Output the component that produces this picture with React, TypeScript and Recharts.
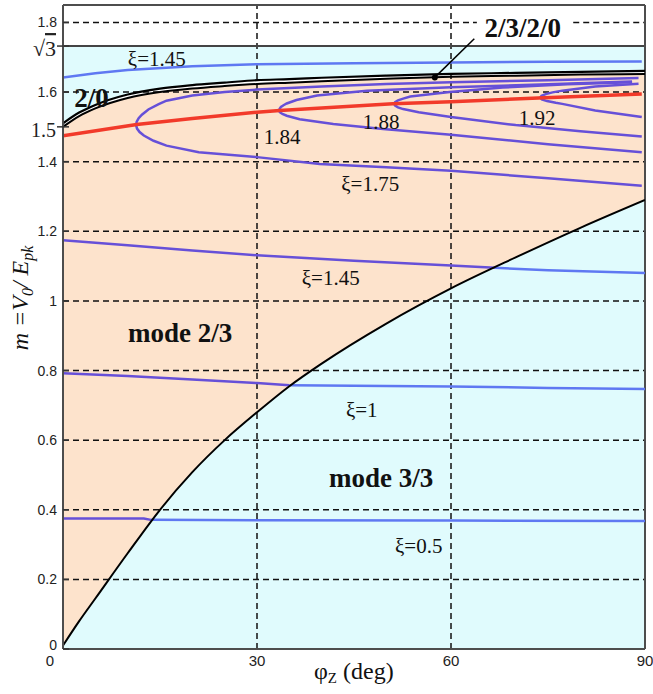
import React from 'react';
import { ComposedChart, Area, Line, XAxis, YAxis, ReferenceLine, ReferenceDot } from 'recharts';

const SQRT3 = Math.sqrt(3);

// Region boundaries sampled on a common phi grid (deg)
const X_GRID = [0, 2.5, 5, 10, 15, 20, 25, 30, 35, 40, 50, 60, 70, 80, 90];
const EDGE_20_TOP = [1.51, 1.541, 1.563, 1.593, 1.61, 1.62, 1.627, 1.634, 1.637, 1.641, 1.647, 1.652, 1.655, 1.658, 1.661];
const EDGE_20_BOTTOM = [1.5, 1.531, 1.553, 1.583, 1.6, 1.61, 1.617, 1.623, 1.627, 1.631, 1.638, 1.644, 1.647, 1.65, 1.652];
const EDGE_23_33 = [0.01, 0.08, 0.145, 0.275, 0.4, 0.508, 0.6, 0.68, 0.755, 0.82, 0.935, 1.036, 1.125, 1.21, 1.29];

// xi curves [phi, m]
const XI05_23: [number, number][] = [[0, 0.375], [12.5, 0.375], [13.6, 0.371]];
const XI05_33: [number, number][] = [[13.6, 0.371], [30, 0.37], [60, 0.369], [90, 0.368]];
const XI1_23: [number, number][] = [[0, 0.792], [10, 0.784], [20, 0.774], [30, 0.764], [35, 0.758]];
const XI1_33: [number, number][] = [[35, 0.758], [45, 0.756], [60, 0.754], [75, 0.75], [90, 0.747]];
const XI145_23: [number, number][] = [[0, 1.174], [10, 1.16], [20, 1.145], [30, 1.131], [45, 1.115], [60, 1.102], [66.8, 1.095]];
const XI145_33: [number, number][] = [[66.8, 1.095], [75, 1.088], [90, 1.08]];
const XI145_20: [number, number][] = [[0, 1.642], [5, 1.654], [10, 1.663], [20, 1.674], [30, 1.68], [45, 1.683], [60, 1.685], [75, 1.687], [89.5, 1.688]];
const XI175: [number, number][] = [
  [89.5, 1.331], [75, 1.352], [60, 1.374], [50, 1.384], [39.7, 1.393], [30, 1.413], [21, 1.427], [16, 1.446], [14, 1.46], [12.5, 1.475], [11.85, 1.485], [11.45, 1.495], [11.3, 1.505],
  [11.4, 1.515], [11.7, 1.525], [12.2, 1.535], [13.2, 1.55], [14.8, 1.565], [16, 1.575], [20, 1.59], [25, 1.6], [30, 1.607], [40, 1.616], [50, 1.623], [60, 1.628], [75, 1.634], [89, 1.64],
];
const XI184: [number, number][] = [
  [89.5, 1.427], [75, 1.45], [60, 1.477], [49.5, 1.494], [41.8, 1.508], [36.6, 1.522], [34.6, 1.532], [33.93, 1.537], [33.53, 1.542], [33.4, 1.547],
  [33.5, 1.552], [33.7, 1.557], [34.1, 1.562], [34.6, 1.567], [36.1, 1.577], [39.3, 1.59], [47, 1.604], [60, 1.614], [75, 1.622], [88, 1.63],
];
const XI188: [number, number][] = [
  [89.5, 1.472], [80, 1.487], [70, 1.505], [60, 1.528], [55, 1.542], [52.6, 1.551], [51.8, 1.556], [51.36, 1.561], [51.2, 1.566],
  [51.36, 1.571], [51.8, 1.576], [52.6, 1.581], [53.7, 1.587], [59.8, 1.6], [68, 1.613], [78, 1.622], [88, 1.628],
];
const XI192: [number, number][] = [
  [89.5, 1.528], [82.3, 1.547], [77.2, 1.566], [76.2, 1.569], [74.85, 1.574], [74.05, 1.579], [73.8, 1.584],
  [74, 1.589], [74.65, 1.594], [75.7, 1.599], [77.2, 1.604], [82.3, 1.616], [89, 1.624],
];
const BIFURCATION: [number, number][] = [[0, 1.474], [11.4, 1.507], [20, 1.524], [30, 1.542], [33.5, 1.547], [40, 1.554], [51, 1.566], [60, 1.572], [73.5, 1.583], [89.5, 1.594]];

const X_TICKS = [0, 30, 60, 90];
const Y_TICKS = [0, 0.2, 0.4, 0.6, 0.8, 1, 1.2, 1.4, 1.5, 1.6, SQRT3, 1.8];
const H_GRID = [0.2, 0.4, 0.6, 0.8, 1, 1.2, 1.4, 1.6];
const V_GRID = [30, 60];

const NOTES = [
  { x: 14.5, y: 1.696, text: 'ξ=1.45', bold: false },
  { x: 4.4, y: 1.582, text: '2/0', bold: true },
  { x: 33.9, y: 1.472, text: '1.84', bold: false },
  { x: 49.2, y: 1.515, text: '1.88', bold: false },
  { x: 73.3, y: 1.525, text: '1.92', bold: false },
  { x: 47.5, y: 1.337, text: 'ξ=1.75', bold: false },
  { x: 41.4, y: 1.065, text: 'ξ=1.45', bold: false },
  { x: 18.1, y: 0.907, text: 'mode 2/3', bold: true },
  { x: 46.2, y: 0.686, text: 'ξ=1', bold: false },
  { x: 49.2, y: 0.49, text: 'mode 3/3', bold: true },
  { x: 55.0, y: 0.296, text: 'ξ=0.5', bold: false },
  { x: 71.1, y: 1.785, text: '2/3/2/0', bold: true },
];

const POINTER = { from: { x: 63.6, y: 1.753 }, to: { x: 57.5, y: 1.642 } };

const regionData = X_GRID.map((x, i) => ({
  x,
  sq: SQRT3,
  gap: [EDGE_20_BOTTOM[i], EDGE_20_TOP[i]],
  mode23: [EDGE_23_33[i], EDGE_20_BOTTOM[i]],
  top: EDGE_20_TOP[i],
  bottom: EDGE_20_BOTTOM[i],
  edge: EDGE_23_33[i],
}));

const pts = (a: [number, number][]) => a.map(([x, m]) => ({ x, m }));

const SERIF = '"Liberation Serif", "Times New Roman", serif';
const SANS = '"Liberation Sans", Arial, sans-serif';
const PURPLE = '#6650d8';
const BLUE = '#5f78f2';
const CYAN = '#e0fbfd';
const PEACH = '#fde3cc';
const FRAME = '#4d4d4d';

const yLabel = (v: number) => {
  if (Math.abs(v - SQRT3) < 1e-9) return 'sqrt3';
  if (v === 0 || v === 1) return String(v);
  return v.toFixed(1);
};

const YTick = (props: any) => {
  const { x, y, payload } = props;
  const v = payload.value;
  const axisX = x + 6;
  const lab = yLabel(v);
  const special = lab === 'sqrt3' || lab === '1.5';
  return (
    <g>
      <line x1={special ? axisX - 6 : axisX} x2={axisX + 6} y1={y} y2={y} stroke="#333" strokeWidth={1.5} />
      {lab === 'sqrt3' ? (
        <text x={x - 1} y={y + 2} textAnchor="end" dominantBaseline="central" fontFamily={SERIF} fontSize={22} fill="#222">
          √<tspan style={{ textDecoration: 'overline' }}>3</tspan>
        </text>
      ) : lab === '1.5' ? (
        <text x={x - 1} y={y + 3} textAnchor="end" dominantBaseline="central" fontFamily={SERIF} fontSize={20} fill="#222">
          1.5
        </text>
      ) : (
        <text x={x} y={v === 0 ? y - 4 : y} textAnchor="end" dominantBaseline="central" fontFamily={SANS} fontSize={14} fill="#222">
          {lab}
        </text>
      )}
    </g>
  );
};

const XTick = (props: any) => {
  const { x, y, payload } = props;
  return (
    <text x={payload.value === 0 ? x - 13 : x} y={y} dy="0.71em" textAnchor="middle" fontFamily={SANS} fontSize={15} fill="#222">
      {payload.value}
    </text>
  );
};

const YAxisLabel = () => (
  <text transform="translate(28,298) rotate(-90)" textAnchor="middle" fontFamily={SERIF} fontSize={24} fontStyle="italic" fill="#111">
    m<tspan> =</tspan>V<tspan fontSize={16} dy={5}>0</tspan>
    <tspan dy={-5}>/ E</tspan>
    <tspan fontSize={16} dy={5}>pk</tspan>
  </text>
);

const XAxisLabel = () => (
  <text x={314} y={679} fontFamily={SERIF} fontSize={24} fill="#111">
    φ<tspan fontSize={15} dy={4}>Z</tspan>
    <tspan dy={-4}>{'  (deg)'}</tspan>
  </text>
);

const Note = ({ cx, cy, text, bold }: any) => (
  <text x={cx} y={cy} textAnchor="middle" dominantBaseline="central" fontFamily={SERIF} fontSize={bold ? 27 : 21} fontWeight={bold ? 'bold' : 'normal'} fill="#111">
    {text}
  </text>
);

const xiLine = (key: string, data: [number, number][], color: string) => (
  <Line key={key} data={pts(data)} dataKey="m" type="linear" stroke={color} strokeWidth={2.5} dot={false} isAnimationActive={false} />
);

export default function App() {
  return (
    <div style={{ position: 'absolute', left: 0, top: 0, background: '#fff' }}>
      <ComposedChart width={653} height={694} data={regionData} margin={{ top: 5, right: 8, left: 0, bottom: 0 }}>
        <XAxis
          dataKey="x"
          type="number"
          domain={[0, 90]}
          ticks={X_TICKS}
          allowDataOverflow
          height={45}
          tickSize={0}
          tickMargin={6}
          tick={<XTick />}
          axisLine={{ stroke: FRAME, strokeWidth: 2 }}
          tickLine={false}
          label={<XAxisLabel />}
        />
        <YAxis
          type="number"
          domain={[0, 1.85]}
          ticks={Y_TICKS}
          allowDataOverflow
          width={63}
          tickSize={0}
          tickMargin={6}
          tick={<YTick />}
          axisLine={{ stroke: FRAME, strokeWidth: 2 }}
          tickLine={false}
          interval={0}
          label={<YAxisLabel />}
        />
        <Area dataKey="sq" type="monotone" stroke="none" fill={CYAN} fillOpacity={1} isAnimationActive={false} />
        <Area dataKey="gap" type="monotone" stroke="none" fill="#ffffff" fillOpacity={1} isAnimationActive={false} />
        <Area dataKey="mode23" type="monotone" stroke="none" fill={PEACH} fillOpacity={1} isAnimationActive={false} />

        {H_GRID.map((v) => (
          <ReferenceLine key={'h' + v} y={v} stroke="#111" strokeWidth={1.5} strokeDasharray="6 4" />
        ))}
        <ReferenceLine segment={[{ x: 0, y: 1.8 }, { x: 64, y: 1.8 }]} stroke="#111" strokeWidth={1.5} strokeDasharray="6 4" />
        <ReferenceLine segment={[{ x: 78.9, y: 1.8 }, { x: 90, y: 1.8 }]} stroke="#111" strokeWidth={1.5} strokeDasharray="6 4" />
        {V_GRID.map((v) => (
          <ReferenceLine key={'v' + v} x={v} stroke="#111" strokeWidth={1.5} strokeDasharray="6 4" />
        ))}
        <ReferenceLine y={SQRT3} stroke="#444" strokeWidth={2} />
        <ReferenceLine y={1.85} stroke={FRAME} strokeWidth={2} />
        <ReferenceLine x={90} stroke={FRAME} strokeWidth={2} />

        {xiLine('a1', XI05_23, PURPLE)}
        {xiLine('a2', XI05_33, BLUE)}
        {xiLine('b1', XI1_23, PURPLE)}
        {xiLine('b2', XI1_33, BLUE)}
        {xiLine('c1', XI145_23, PURPLE)}
        {xiLine('c2', XI145_33, BLUE)}
        {xiLine('c3', XI145_20, BLUE)}
        {xiLine('d', XI175, PURPLE)}
        {xiLine('e', XI184, PURPLE)}
        {xiLine('f', XI188, PURPLE)}
        {xiLine('g', XI192, PURPLE)}
        <Line data={pts(BIFURCATION)} dataKey="m" type="linear" stroke="#f23a2a" strokeWidth={3.5} dot={false} isAnimationActive={false} />
        <Line dataKey="top" type="monotone" stroke="#000" strokeWidth={2.2} dot={false} isAnimationActive={false} />
        <Line dataKey="bottom" type="monotone" stroke="#000" strokeWidth={2} dot={false} isAnimationActive={false} />
        <Line dataKey="edge" type="monotone" stroke="#000" strokeWidth={2} dot={false} isAnimationActive={false} />

        <ReferenceLine segment={[POINTER.from, POINTER.to]} stroke="#000" strokeWidth={1.5} />
        <ReferenceDot x={POINTER.to.x} y={POINTER.to.y} r={3} fill="#000" stroke="none" />
        {NOTES.map((n, i) => (
          <ReferenceDot key={'n' + i} x={n.x} y={n.y} r={0} shape={(p: any) => <Note cx={p.cx} cy={p.cy} text={n.text} bold={n.bold} />} />
        ))}
      </ComposedChart>
    </div>
  );
}
